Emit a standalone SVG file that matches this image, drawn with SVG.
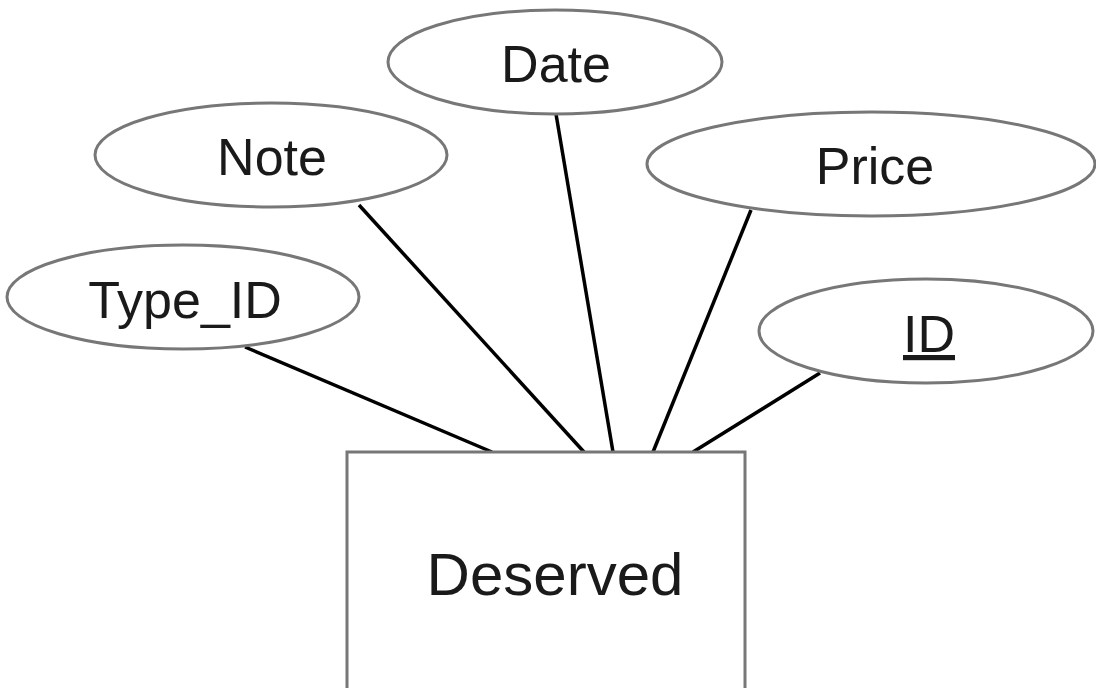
<svg xmlns="http://www.w3.org/2000/svg" width="1096" height="688" viewBox="0 0 1096 688">
<style>
.attr{fill:#fff;stroke:#777;stroke-width:3}
.ent{fill:#fff;stroke:#777;stroke-width:3}
.lbl{font-family:"Liberation Sans",Arial,sans-serif;font-size:52px;fill:#1a1a1a;text-anchor:middle}
.conn line{stroke:#000;stroke-width:3.5}
</style>
<rect width="1096" height="688" fill="#fff"/>
<g class="conn" id="connectors">
<line x1="245" y1="347" x2="492" y2="452"/>
<line x1="359" y1="205" x2="584" y2="452"/>
<line x1="556" y1="114" x2="613" y2="452"/>
<line x1="751" y1="210" x2="653" y2="452"/>
<line x1="820" y1="373" x2="693" y2="452"/>
</g>
<g id="deserved">
<rect class="ent" x="347" y="452" width="398" height="250"/>
<text class="lbl" x="555" y="595" style="font-size:60px">Deserved</text>
</g>
<g id="date">
<ellipse class="attr" cx="555" cy="62" rx="167" ry="52"/>
<text class="lbl" x="556" y="82">Date</text>
</g>
<g id="note">
<ellipse class="attr" cx="271" cy="155" rx="176" ry="52"/>
<text class="lbl" x="272" y="175">Note</text>
</g>
<g id="price">
<ellipse class="attr" cx="871" cy="164" rx="224" ry="52"/>
<text class="lbl" x="875" y="184">Price</text>
</g>
<g id="type_id">
<ellipse class="attr" cx="183" cy="297" rx="176" ry="52"/>
<text class="lbl" x="185" y="318">Type_ID</text>
</g>
<g id="id">
<ellipse class="attr" cx="926" cy="331" rx="167" ry="52"/>
<text class="lbl" x="929" y="352" text-decoration="underline">ID</text>
</g>
</svg>
